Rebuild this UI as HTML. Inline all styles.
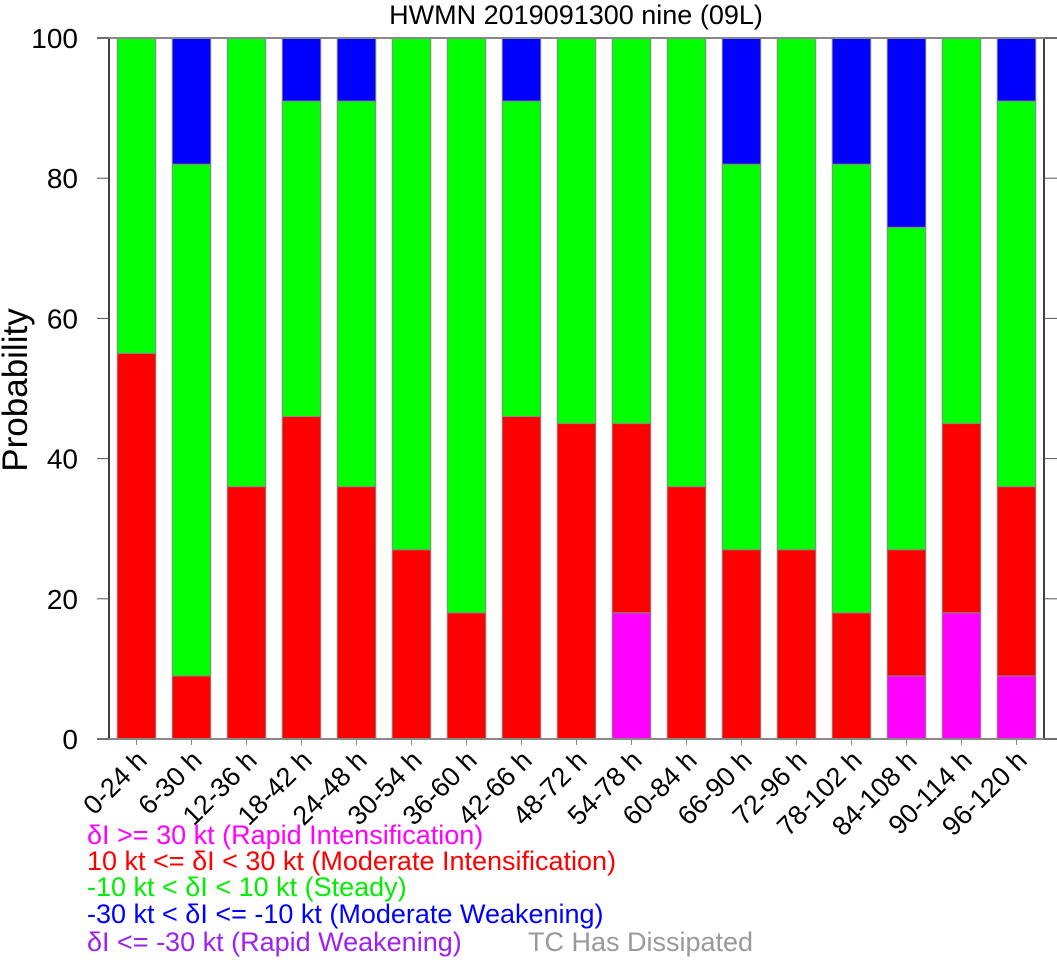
<!DOCTYPE html>
<html><head><meta charset="utf-8"><style>
body{margin:0;background:#fff}
svg{display:block;font-family:"Liberation Sans",sans-serif}
</style></head><body>
<svg id="chart" width="1057" height="960">
<text x="576" y="24" font-size="27" text-anchor="middle">HWMN 2019091300 nine (09L)</text>
<text transform="translate(27,390) rotate(-90)" font-size="35" text-anchor="middle">Probability</text>
<g id="bars"></g>
<g id="axes"></g>
<g font-size="27">
<text x="87" y="844" fill="#ff00ff">δI &gt;= 30 kt (Rapid Intensification)</text>
<text x="87" y="870" fill="#ff0000">10 kt &lt;= δI &lt; 30 kt (Moderate Intensification)</text>
<text x="87" y="896" fill="#00ee00">-10 kt &lt; δI &lt; 10 kt (Steady)</text>
<text x="87" y="923" fill="#0000ff">-30 kt &lt; δI &lt;= -10 kt (Moderate Weakening)</text>
<text x="87" y="951" fill="#a020f0">δI &lt;= -30 kt (Rapid Weakening)</text>
<text x="528" y="951" fill="#999999">TC Has Dissipated</text>
</g>
</svg>
<script>
const categories=["0-24 h","6-30 h","12-36 h","18-42 h","24-48 h","30-54 h","36-60 h","42-66 h","48-72 h","54-78 h","60-84 h","66-90 h","72-96 h","78-102 h","84-108 h","90-114 h","96-120 h"];
const rapidInt=[0,0,0,0,0,0,0,0,0,18,0,0,0,0,9,18,9];
const moderateInt=[55,9,36,46,36,27,18,46,45,27,36,27,27,18,18,27,27];
const steady=[45,73,64,45,55,73,82,45,55,55,64,55,73,64,46,55,55];
const moderateWeak=[0,18,0,9,9,0,0,9,0,0,0,18,0,18,27,0,9];
const rapidWeak=[0,0,0,0,0,0,0,0,0,0,0,0,0,0,0,0,0];
const yTicks=[0,20,40,60,80,100];
const NS="http://www.w3.org/2000/svg";
const L=109,R=1044,T=38,B=739;
const step=(R-L)/categories.length;
const xc=i=>L+step*(i+0.5);
const y=v=>B-(B-T)*v/100;
const bars=document.getElementById('bars'),axes=document.getElementById('axes');
function mk(tag,attrs,parent){const e=document.createElementNS(NS,tag);for(const k in attrs)e.setAttribute(k,attrs[k]);parent.appendChild(e);return e;}
const series=[[rapidInt,"#ff00ff","ri"],[moderateInt,"#ff0000","mi"],[steady,"#00ff00","steady"],[moderateWeak,"#0000ff","mw"],[rapidWeak,"#a020f0","rw"]];
const bw=step*0.7;
categories.forEach((c,i)=>{
  let base=0;
  series.forEach(([arr,col,nm])=>{
    const v=arr[i];
    if(v>0){
      const r=mk('rect',{x:xc(i)-bw/2,y:y(base+v),width:bw,height:y(base)-y(base+v),fill:col,stroke:"#888",'stroke-width':1},bars);
      
      
    }
    base+=v;
  });
  mk('line',{x1:xc(i),x2:xc(i),y1:B,y2:B+6,stroke:"#888"},axes);
  const lb=mk('text',{x:0,y:0,'font-size':27,'text-anchor':'end',transform:`translate(${xc(i)+12},${B+23}) rotate(-45)`},axes);
  lb.textContent=c;
  
  
});
mk('line',{x1:L,x2:L,y1:T,y2:B,stroke:"#000",'stroke-width':1.5},axes);
mk('line',{x1:R,x2:R,y1:T,y2:B,stroke:"#000",'stroke-width':1.5},axes);
mk('line',{x1:97,x2:1057,y1:T,y2:T,stroke:"#888",'stroke-width':2},axes);
mk('line',{x1:97,x2:1057,y1:B,y2:B,stroke:"#888",'stroke-width':2},axes);
yTicks.forEach(v=>{
  mk('line',{x1:97,x2:L,y1:y(v),y2:y(v),stroke:"#555"},axes);
  mk('line',{x1:R,x2:1057,y1:y(v),y2:y(v),stroke:"#555"},axes);
  const t=mk('text',{x:78,y:y(v)+10,'font-size':28,'text-anchor':'end'},axes);
  t.textContent=v;
  
  
});
</script>
</body></html>
